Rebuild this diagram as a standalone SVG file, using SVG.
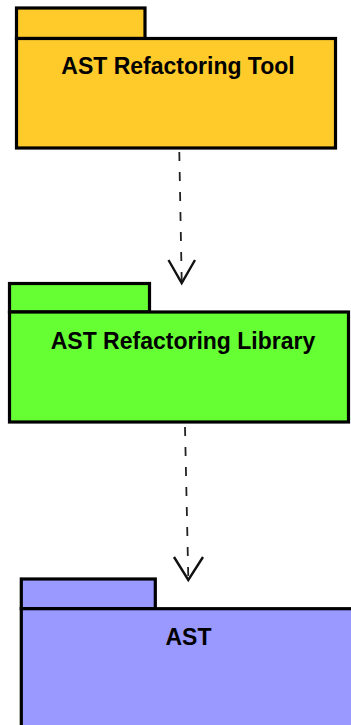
<svg xmlns="http://www.w3.org/2000/svg" width="351" height="725" viewBox="0 0 351 725">
  <style>
    .pkg { stroke: #000; stroke-width: 3.2; }
    .tool { fill: #ffcb2b; }
    .lib { fill: #66ff33; }
    .ast { fill: #9999ff; }
    .label { font-family: "Liberation Sans", Arial, sans-serif; font-weight: bold; font-size: 23px; fill: #000; text-anchor: middle; }
    .dep { fill: none; stroke: #222; stroke-width: 1.8; stroke-dasharray: 9 11; }
    .head { fill: none; stroke: #111; stroke-width: 2.4; stroke-linejoin: miter; }
  </style>
  <rect width="351" height="725" fill="#fff"/>

  <!-- package: AST Refactoring Tool -->
  <g id="pkg-tool">
    <rect class="pkg tool" x="16.5" y="8" width="128.5" height="30.5"/>
    <rect class="pkg tool" x="16.5" y="38.5" width="319" height="109.5"/>
    <text class="label" x="178" y="74">AST Refactoring Tool</text>
  </g>

  <!-- package: AST Refactoring Library -->
  <g id="pkg-library">
    <rect class="pkg lib" x="9.5" y="283.5" width="140" height="28.5"/>
    <rect class="pkg lib" x="9.5" y="312" width="339" height="110"/>
    <text class="label" x="183" y="349">AST Refactoring Library</text>
  </g>

  <!-- package: AST -->
  <g id="pkg-ast">
    <rect class="pkg ast" x="21.3" y="579" width="134" height="29.7"/>
    <rect class="pkg ast" x="21.3" y="608.7" width="340" height="130"/>
    <text class="label" x="188.5" y="645">AST</text>
  </g>

  <!-- dependency arrows -->
  <g id="connectors">
    <path class="dep" d="M179.3 152 L181.7 281"/>
    <polyline class="head" points="168.5,260 181.7,283 195,260"/>
    <path class="dep" d="M185 427 L188.3 578"/>
    <polyline class="head" points="174,557 188.3,580 203,557"/>
  </g>
</svg>
